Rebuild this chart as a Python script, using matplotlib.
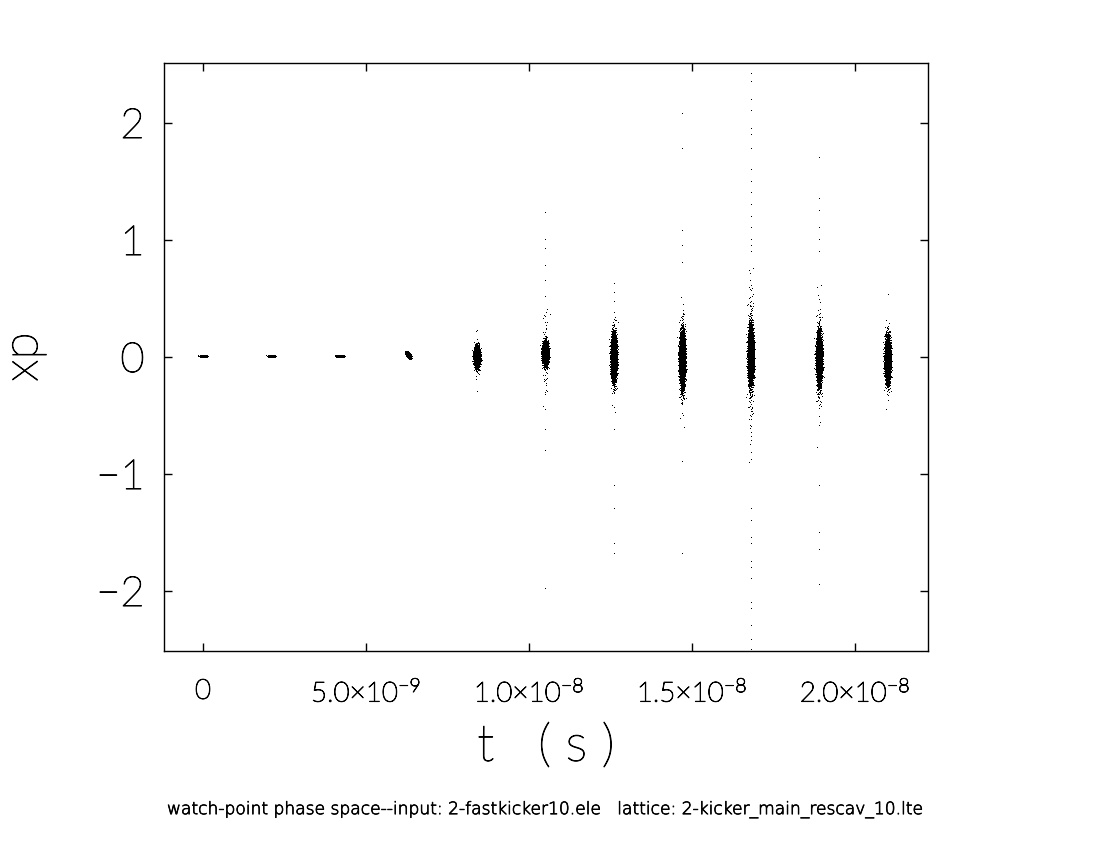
import numpy as np
import matplotlib
matplotlib.use("Agg")
import matplotlib.pyplot as plt
import matplotlib.patheffects as pe

plt.rcParams["font.family"] = ["Lato", "DejaVu Sans"]
plt.rcParams["font.weight"] = "light"
plt.rcParams["axes.labelweight"] = "light"
plt.rcParams["mathtext.fontset"] = "custom"
plt.rcParams["mathtext.rm"] = "Lato:light"
plt.rcParams["mathtext.it"] = "Lato:light"
plt.rcParams["mathtext.default"] = "rm"

# bunch centres in t (s) and spreads
bunch_t = [0.0, 2.1e-9, 4.2e-9, 6.3e-9, 8.4e-9, 1.05e-8, 1.26e-8, 1.47e-8, 1.68e-8, 1.89e-8, 2.1e-8]
sigma_t = [4e-11, 4e-11, 4e-11, 3e-11, 4e-11, 4e-11, 4e-11, 4e-11, 4e-11, 4e-11, 4e-11]
core_xp_mean = [0.0, 0.0, 0.0, 0.01, -0.01, 0.02, -0.01, -0.03, 0.0, -0.02, -0.03]
core_xp_sigma = [0.003, 0.003, 0.003, 0.008, 0.035, 0.04, 0.085, 0.105, 0.105, 0.095, 0.085]
core_count = [5000, 5000, 5000, 5000, 5000, 5000, 5000, 5000, 5000, 5000, 5000]
halo_xp_sigma = [0.0, 0.0, 0.0, 0.015, 0.09, 0.2, 0.18, 0.22, 0.3, 0.25, 0.14]
halo_count = [0, 0, 0, 20, 60, 80, 80, 120, 250, 140, 60]

# isolated particles far from the cores (xp values per bunch)
outliers = {
    4: [0.22, -0.3],
    5: [1.23, 1.0, 0.92, 0.78, 0.65, -0.62, -0.8, -1.98],
    6: [0.62, 0.55, 0.47, -0.62, -1.1, -1.3, -1.6, -1.68],
    7: [2.08, 1.78, 1.08, 0.95, 0.8, -0.9, -1.68],
    8: [2.42, 2.35, 2.2, 2.1, 1.95, 1.9, 1.78, 1.6, 1.5, 1.4, 1.3, 1.2, 1.1, 1.0,
        0.95, 0.9, -0.6, -0.72, -0.82, -0.88, -1.3, -1.4, -1.55, -1.6, -1.75, -1.8,
        -1.9, -2.1, -2.15, -2.3, -2.42, -2.5],
    9: [1.7, 1.35, 1.25, 1.1, 1.0, 0.9, -1.1, -1.5, -1.65, -1.95],
    10: [0.53, -0.38],
}

xtick_vals = [0.0, 5.0e-9, 1.0e-8, 1.5e-8, 2.0e-8]
xtick_labels = ["0", r"$5.0{\times}10^{-9}$", r"$1.0{\times}10^{-8}$",
                r"$1.5{\times}10^{-8}$", r"$2.0{\times}10^{-8}$"]
ytick_vals = [-2, -1, 0, 1, 2]
ytick_labels = ["−2", "−1", "0", "1", "2"]
title = "watch-point phase space--input: 2-fastkicker10.ele   lattice: 2-kicker_main_rescav_10.lte"


def halton(n, base, skip=0):
    out = np.zeros(n)
    for i in range(n):
        f, r, k = 1.0, 0.0, i + 1 + skip
        while k > 0:
            f /= base
            r += f * (k % base)
            k //= base
        out[i] = r
    return out


def normal_pairs(n, skip):
    # deterministic quasi-normal pairs (Halton + Box-Muller)
    u1 = halton(n, 2, skip)
    u2 = halton(n, 3, skip)
    rad = np.sqrt(-2.0 * np.log(u1))
    return rad * np.cos(2 * np.pi * u2), rad * np.sin(2 * np.pi * u2)


fig = plt.figure(figsize=(10.93, 8.42), dpi=100)
ax = fig.add_axes([0.150, 0.2268, 0.699, 0.6984])

for i, tc in enumerate(bunch_t):
    za, zb = normal_pairs(core_count[i], 17 * i)
    t = tc + sigma_t[i] * za
    xp = core_xp_mean[i] + core_xp_sigma[i] * zb
    if i == 3:
        xp = xp - 0.6 * za * core_xp_sigma[i]
    ax.plot(t, xp, ",", color="black")
    if halo_count[i] > 0:
        ha, hb = normal_pairs(halo_count[i], 9000 + 31 * i)
        ax.plot(tc + sigma_t[i] * ha, core_xp_mean[i] + halo_xp_sigma[i] * hb,
                ",", color="black")
    if i in outliers:
        vals = outliers[i]
        ax.plot([tc] * len(vals), vals, ",", color="black")

ax.set_xlim(-1.196e-9, 2.224e-8)
ax.set_ylim(-2.513, 2.513)

darken = [pe.withStroke(linewidth=0.7, foreground="black")]

ax.set_xticks(xtick_vals)
ax.set_xticklabels(xtick_labels, fontsize=20)
ax.set_yticks(ytick_vals)
ax.set_yticklabels(ytick_labels, fontsize=30)
ax.tick_params(direction="in", length=6, width=1, top=True, right=True)
ax.tick_params(axis="x", pad=20)
ax.tick_params(axis="y", pad=14)
for lab in ax.get_xticklabels() + ax.get_yticklabels():
    lab.set_path_effects(darken)
for sp in ax.spines.values():
    sp.set_linewidth(1)

ax.set_xlabel("t   ( s )", fontsize=37, fontweight="light", labelpad=12, path_effects=darken)
ax.set_ylabel("xp", fontsize=36, fontweight="light", labelpad=36, path_effects=darken)

fig.text(0.5, 0.039, title, ha="center", va="center", fontsize=12.3,
         family="DejaVu Sans", color="black",
         path_effects=[pe.withStroke(linewidth=0.5, foreground="black")])

fig.savefig("out.png", dpi=100)
